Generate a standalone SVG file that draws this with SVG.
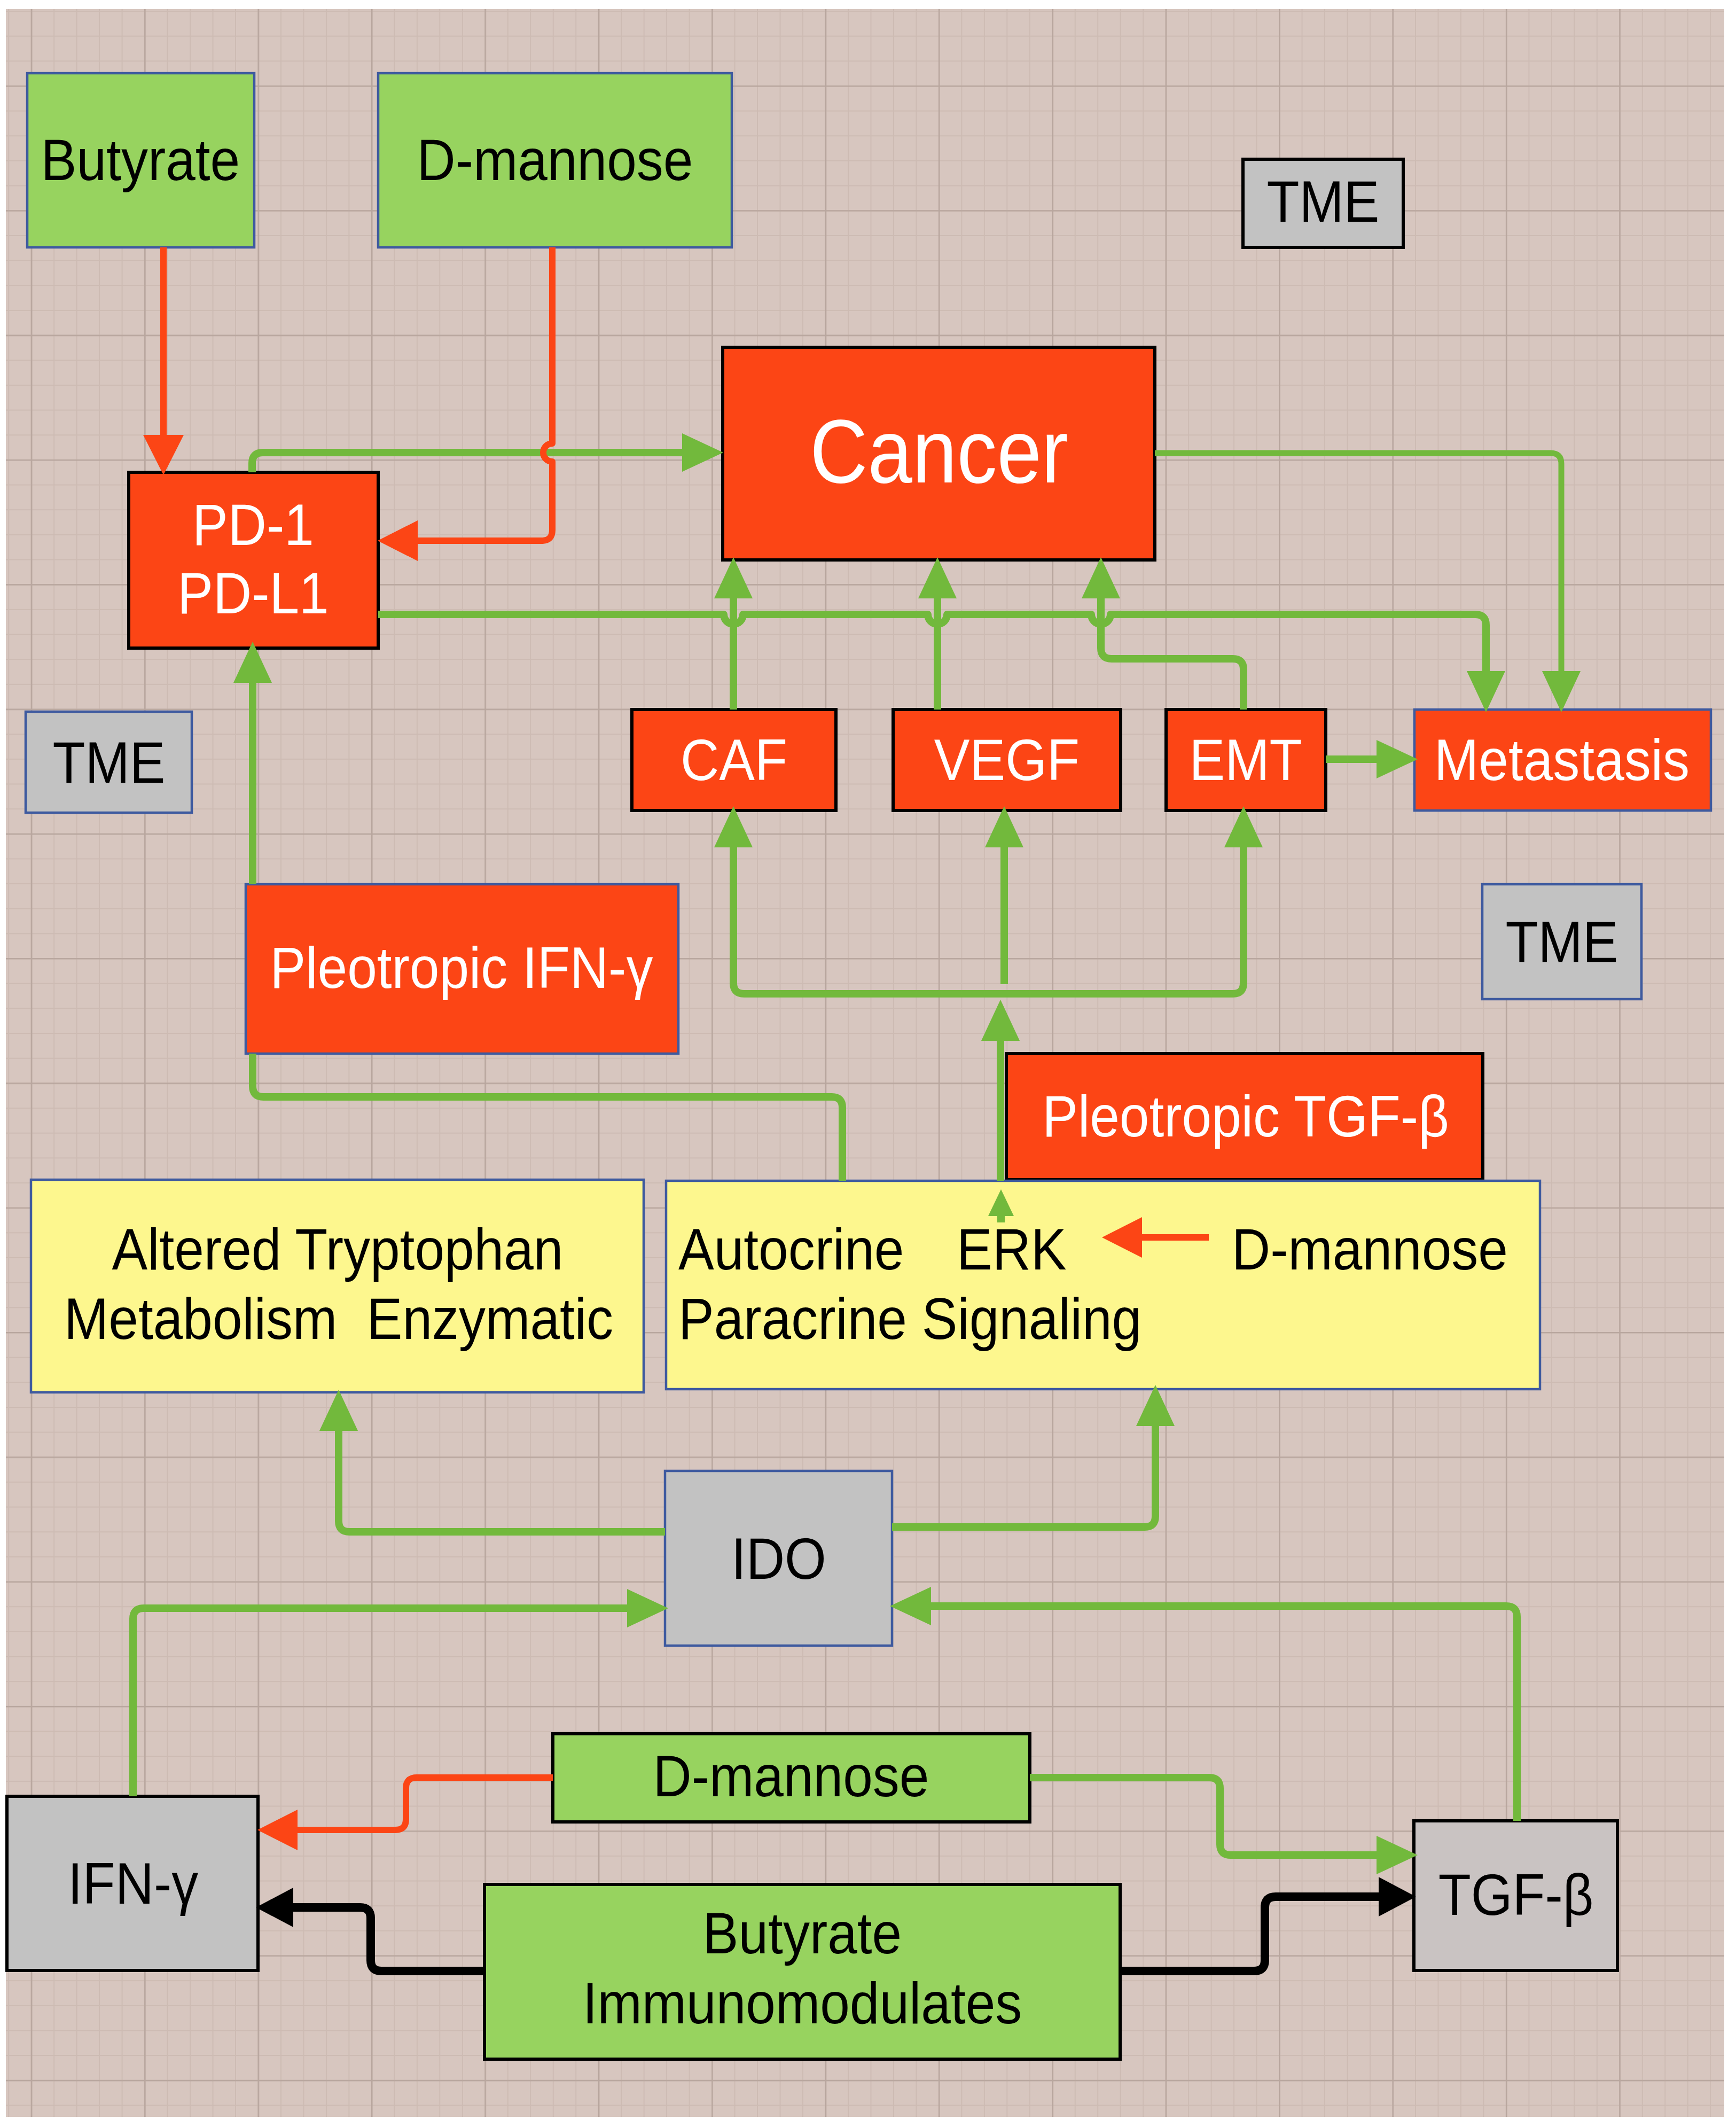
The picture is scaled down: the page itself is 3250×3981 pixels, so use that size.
<svg xmlns="http://www.w3.org/2000/svg" width="3250" height="3981" viewBox="0 0 3250 3981">
<style>
.t{font-family:"Liberation Sans",Arial,Helvetica,sans-serif;font-size:100px;fill:#000;text-anchor:middle}
.w{fill:#fff}
.s{text-anchor:start}
.green{fill:#97d35f}
.red{fill:#fc4515}
.yel{fill:#fdf78e}
.grey{fill:#c2c2c2}
.bb{stroke:#3e5a9f;stroke-width:4.5}
.bk{stroke:#000;stroke-width:6}
.cg{fill:none;stroke:#72b93c;stroke-width:14;stroke-linejoin:round}
.cr{fill:none;stroke:#fc4515;stroke-width:12;stroke-linejoin:round}
.ck{fill:none;stroke:#000;stroke-width:16;stroke-linejoin:round}
</style>
<defs>
<pattern id="minor" patternUnits="userSpaceOnUse" x="57.7" y="160" width="42.48" height="46.66">
<path d="M1,0 V46.66 M0,1 H42.48" stroke="#cdbbb3" stroke-width="2" fill="none"/>
</pattern>
<pattern id="major" patternUnits="userSpaceOnUse" x="57.7" y="160" width="212.4" height="233.3">
<path d="M1.3,0 V233.3 M0,1.3 H212.4" stroke="#b8a69e" stroke-width="2.6" fill="none"/>
</pattern>
<marker id="ag" markerUnits="userSpaceOnUse" viewBox="0 0 77 72" markerWidth="77" markerHeight="72" refX="1" refY="36" orient="auto-start-reverse">
<path d="M0,0 L77,36 L0,72 z" fill="#72b93c"/>
</marker>
<marker id="as" markerUnits="userSpaceOnUse" viewBox="0 0 50 48" markerWidth="50" markerHeight="48" refX="1" refY="24" orient="auto">
<path d="M0,0 L50,24 L0,48 z" fill="#72b93c"/>
</marker>
<marker id="ar" markerUnits="userSpaceOnUse" viewBox="0 0 75 76" markerWidth="75" markerHeight="76" refX="1" refY="38" orient="auto">
<path d="M0,0 L75,38 L0,76 z" fill="#fc4515"/>
</marker>
<marker id="ak" markerUnits="userSpaceOnUse" viewBox="0 0 70 74" markerWidth="70" markerHeight="74" refX="1" refY="37" orient="auto">
<path d="M0,0 L70,37 L0,74 z" fill="#000"/>
</marker>
</defs>

<g id="background">
<rect x="0" y="0" width="3250" height="3981" fill="#fff"/>
<rect x="11" y="17" width="3217" height="3945" fill="#d7c6bf"/>
<rect x="11" y="17" width="3217" height="3945" fill="url(#minor)"/>
<rect x="11" y="17" width="3217" height="3945" fill="url(#major)"/>
</g>

<g id="n-butyrate-top"><rect x="51" y="137" width="425" height="326" class="green bb"/><text class="t" transform="translate(263,337) scale(1,1.1)">Butyrate</text></g>
<g id="n-dmannose-top"><rect x="708" y="137" width="662" height="326" class="green bb"/><text class="t" transform="translate(1039,337) scale(1,1.1)">D-mannose</text></g>
<g id="n-tme-top"><rect x="2327" y="298" width="300" height="165" class="grey bk"/><text class="t" transform="translate(2477,415) scale(1,1.1)">TME</text></g>
<g id="n-cancer"><rect x="1353" y="650" width="809" height="398" class="red bk"/><text class="t w" style="font-size:150px" transform="translate(1758,903) scale(1,1.12)">Cancer</text></g>
<g id="n-pd"><rect x="241" y="884" width="467" height="329" class="red bk"/><text class="t w" transform="translate(474,1020) scale(1,1.1)">PD-1</text><text class="t w" transform="translate(474,1148) scale(1,1.1)">PD-L1</text></g>
<g id="n-tme-left"><rect x="48" y="1332" width="311" height="189" class="grey bb"/><text class="t" transform="translate(204,1465) scale(1,1.1)">TME</text></g>
<g id="n-caf"><rect x="1183" y="1328" width="382" height="189" class="red bk"/><text class="t w" transform="translate(1374,1460) scale(1,1.1)">CAF</text></g>
<g id="n-vegf"><rect x="1672" y="1328" width="426" height="189" class="red bk"/><text class="t w" transform="translate(1885,1460) scale(1,1.1)">VEGF</text></g>
<g id="n-emt"><rect x="2183" y="1328" width="299" height="189" class="red bk"/><text class="t w" transform="translate(2332,1460) scale(1,1.1)">EMT</text></g>
<g id="n-metastasis"><rect x="2648" y="1328" width="555" height="189" class="red bb"/><text class="t w" transform="translate(2924,1460) scale(1,1.1)">Metastasis</text></g>
<g id="n-tme-right"><rect x="2775" y="1655" width="298" height="215" class="grey bb"/><text class="t" transform="translate(2924,1801) scale(1,1.1)">TME</text></g>
<g id="n-pleo-ifn"><rect x="460" y="1655" width="810" height="317" class="red bb"/><text class="t w" transform="translate(864,1849) scale(1,1.1)">Pleotropic IFN-γ</text></g>
<g id="n-pleo-tgf"><rect x="1884" y="1972" width="892" height="236" class="red bk"/><text class="t w" transform="translate(2332,2127) scale(1,1.1)">Pleotropic TGF-β</text></g>
<g id="n-altered"><rect x="58" y="2208" width="1147" height="398" class="yel bb"/><text class="t" transform="translate(632,2376) scale(1,1.1)">Altered Tryptophan</text><text class="t" xml:space="preserve" style="white-space:pre" transform="translate(634,2506) scale(1,1.1)">Metabolism  Enzymatic</text></g>
<g id="n-autocrine"><rect x="1247" y="2210" width="1636" height="390" class="yel bb"/><text class="t s" transform="translate(1270,2376) scale(1,1.1)">Autocrine</text><text class="t s" transform="translate(1791,2376) scale(1,1.1)">ERK</text><text class="t s" transform="translate(2306,2376) scale(1,1.1)">D-mannose</text><text class="t s" transform="translate(1270,2506) scale(1,1.1)">Paracrine Signaling</text></g>
<g id="n-ido"><rect x="1245" y="2753" width="425" height="327" class="grey bb"/><text class="t" transform="translate(1458,2955) scale(1,1.1)">IDO</text></g>
<g id="n-ifn"><rect x="13" y="3362" width="470" height="326" class="grey bk"/><text class="t" transform="translate(249,3563) scale(1,1.1)">IFN-γ</text></g>
<g id="n-tgf"><rect x="2647" y="3408" width="381" height="280" class="grey bk" style="fill:#c9c3c2"/><text class="t" transform="translate(2838,3584) scale(1,1.1)">TGF-β</text></g>
<g id="n-dmannose-bot"><rect x="1035" y="3245" width="893" height="165" class="green bk"/><text class="t" transform="translate(1481,3362) scale(1,1.1)">D-mannose</text></g>
<g id="n-butyrate-bot"><rect x="907" y="3527" width="1190" height="327" class="green bk"/><text class="t" transform="translate(1502,3656) scale(1,1.1)">Butyrate</text><text class="t" transform="translate(1502,3787) scale(1,1.1)">Immunomodulates</text></g>

<g id="connectors">
<path class="cg" d="M472,884 V867 Q472,847 492,847 H1278" marker-end="url(#ag)"/>
<path class="cg" d="M708,1150 H1355 A18,18 0 0 0 1391,1150 H1737 A18,18 0 0 0 1773,1150 H2043 A18,18 0 0 0 2079,1150 H2762 Q2782,1150 2782,1170 V1257" marker-end="url(#ag)"/>
<path class="cg" style="stroke-width:11" d="M2162,848 H2903 Q2923,848 2923,868 V1257" marker-end="url(#ag)"/>
<path class="cg" d="M1373,1328 V1119" marker-end="url(#ag)"/>
<path class="cg" d="M1755,1328 V1119" marker-end="url(#ag)"/>
<path class="cg" d="M2328,1328 V1253 Q2328,1233 2308,1233 H2081 Q2061,1233 2061,1213 V1119" marker-end="url(#ag)"/>
<path class="cg" d="M2482,1421 H2578" marker-end="url(#ag)"/>
<path class="cg" d="M1373,1585 V1840 Q1373,1860 1393,1860 H2308 Q2328,1860 2328,1840 V1585" marker-start="url(#ag)" marker-end="url(#ag)"/>
<path class="cg" d="M1880,1842 V1585" marker-end="url(#ag)"/>
<path class="cg" d="M1873,2210 V1947" marker-end="url(#ag)"/>
<path class="cg" d="M1874,2288 V2275" marker-end="url(#as)"/>
<path class="cg" d="M1577,2210 V2073 Q1577,2053 1557,2053 H493 Q473,2053 473,2033 V1972"/>
<path class="cg" d="M473,1655 V1277" marker-end="url(#ag)"/>
<path class="cg" d="M1245,2867 H654 Q634,2867 634,2847 V2677" marker-end="url(#ag)"/>
<path class="cg" d="M1670,2858 H2143 Q2163,2858 2163,2838 V2668" marker-end="url(#ag)"/>
<path class="cg" d="M249,3362 V3030 Q249,3010 269,3010 H1175" marker-end="url(#ag)"/>
<path class="cg" d="M2840,3408 V3026 Q2840,3006 2820,3006 H1742" marker-end="url(#ag)"/>
<path class="cg" d="M1928,3327 H2264 Q2284,3327 2284,3347 V3452 Q2284,3472 2304,3472 H2578" marker-end="url(#ag)"/>
<path class="cr" d="M306,463 V815" marker-end="url(#ar)"/>
<path class="cr" d="M1034,463 V830 A17,17 0 0 0 1034,864 V992 Q1034,1012 1014,1012 H781" marker-end="url(#ar)"/>
<path class="cr" d="M2263,2316 H2137" marker-end="url(#ar)"/>
<path class="cr" d="M1035,3327 H780 Q760,3327 760,3347 V3405 Q760,3425 740,3425 H556" marker-end="url(#ar)"/>
<path class="ck" d="M907,3689 H714 Q694,3689 694,3669 V3590 Q694,3570 674,3570 H548" marker-end="url(#ak)"/>
<path class="ck" d="M2097,3689 H2348 Q2368,3689 2368,3669 V3570 Q2368,3550 2388,3550 H2582" marker-end="url(#ak)"/>
</g>
</svg>
